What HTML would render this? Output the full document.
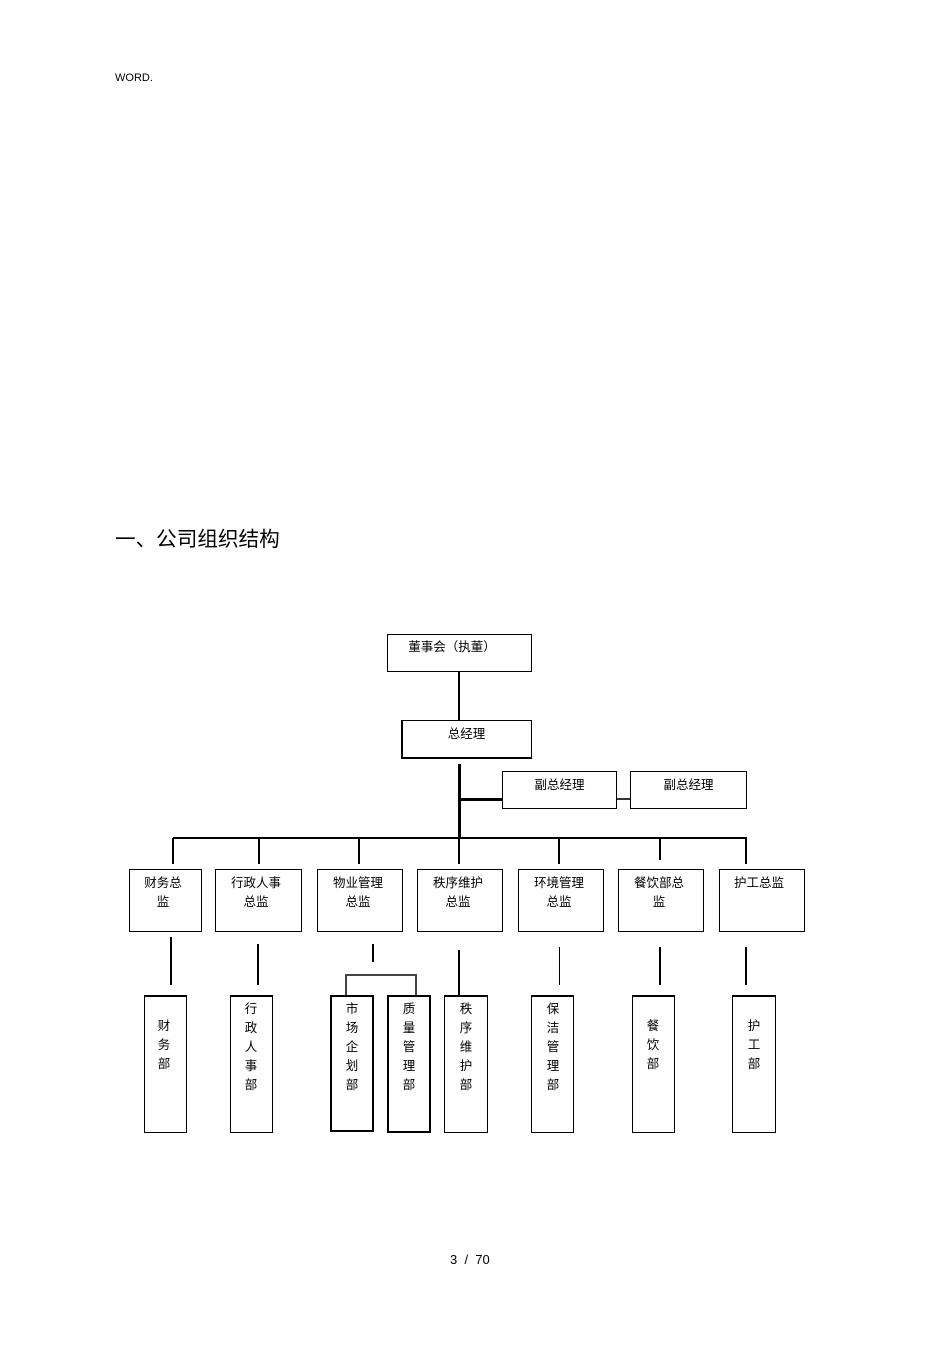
<!DOCTYPE html>
<html><head><meta charset="utf-8"><style>
body{margin:0;background:#fff;width:950px;height:1345px;position:relative;overflow:hidden;font-family:"Liberation Sans","Noto Sans CJK SC",sans-serif;color:#000}
.a{position:absolute}
.b{position:absolute;border:1.5px solid #000;box-sizing:border-box;background:#fff}
.t{position:absolute;font-size:12.5px;line-height:19px;text-align:center}
.v{position:absolute;font-size:12.5px;line-height:19px;text-align:center;width:20px}
.l{position:absolute;background:#000}
</style></head><body>
<div class="a" style="left:115px;top:72px;font-size:11px">WORD.</div>
<div class="a" style="left:115px;top:522px;font-size:20.6px;font-family:'Noto Sans CJK SC',sans-serif">一、公司组织结构</div>
<div class="a" style="left:450px;top:1252px;font-size:13px;white-space:pre">3  /  70</div>

<div class="b" style="left:387px;top:634px;width:145px;height:38px"></div>
<div class="t" style="left:387px;top:638px;width:130px">董事会（执董）</div>
<div class="l" style="left:458px;top:672px;width:2px;height:48px"></div>
<div class="b" style="left:401px;top:720px;width:131px;height:39px;border-width:1.5px 1.5px 2px 2px"></div>
<div class="t" style="left:401px;top:725px;width:131px">总经理</div>
<div class="l" style="left:458px;top:764px;width:3px;height:73px"></div>
<div class="l" style="left:459px;top:798px;width:43px;height:3px"></div>
<div class="b" style="left:502px;top:771px;width:115px;height:38px"></div>
<div class="t" style="left:502px;top:776px;width:115px">副总经理</div>
<div class="l" style="left:617px;top:798px;width:13px;height:2px;background:#333"></div>
<div class="b" style="left:630px;top:771px;width:117px;height:38px"></div>
<div class="t" style="left:630px;top:776px;width:117px">副总经理</div>
<div class="l" style="left:173px;top:837px;width:574px;height:2px"></div>

<div class="l" style="left:172px;top:838px;width:1.5px;height:26px"></div>
<div class="l" style="left:258px;top:838px;width:1.5px;height:26px"></div>
<div class="l" style="left:358px;top:838px;width:1.5px;height:26px"></div>
<div class="l" style="left:458px;top:838px;width:1.5px;height:26px"></div>
<div class="l" style="left:558px;top:838px;width:1.5px;height:26px"></div>
<div class="l" style="left:659px;top:838px;width:1.5px;height:22px"></div>
<div class="l" style="left:745px;top:838px;width:1.5px;height:26px"></div>

<div class="b" style="left:129px;top:869px;width:73px;height:63px"></div>
<div class="t" style="left:129px;top:874px;width:68px">财务总<br>监</div>
<div class="b" style="left:215px;top:869px;width:87px;height:63px"></div>
<div class="t" style="left:215px;top:874px;width:82px">行政人事<br>总监</div>
<div class="b" style="left:317px;top:869px;width:86px;height:63px"></div>
<div class="t" style="left:317px;top:874px;width:82px">物业管理<br>总监</div>
<div class="b" style="left:417px;top:869px;width:86px;height:63px"></div>
<div class="t" style="left:417px;top:874px;width:82px">秩序维护<br>总监</div>
<div class="b" style="left:518px;top:869px;width:86px;height:63px"></div>
<div class="t" style="left:518px;top:874px;width:82px">环境管理<br>总监</div>
<div class="b" style="left:618px;top:869px;width:86px;height:63px"></div>
<div class="t" style="left:618px;top:874px;width:82px">餐饮部总<br>监</div>
<div class="b" style="left:719px;top:869px;width:86px;height:63px"></div>
<div class="t" style="left:719px;top:874px;width:80px">护工总监</div>

<div class="l" style="left:170px;top:937px;width:2px;height:48px"></div>
<div class="l" style="left:257px;top:944px;width:2px;height:41px"></div>
<div class="l" style="left:372px;top:944px;width:2px;height:18px"></div>
<div class="l" style="left:345px;top:974px;width:71px;height:1.5px;background:#444"></div>
<div class="l" style="left:345px;top:974px;width:1.5px;height:22px;background:#444"></div>
<div class="l" style="left:415px;top:974px;width:1.5px;height:22px;background:#444"></div>
<div class="l" style="left:458px;top:950px;width:2px;height:48px"></div>
<div class="l" style="left:559px;top:947px;width:1px;height:38px"></div>
<div class="l" style="left:659px;top:947px;width:2px;height:38px"></div>
<div class="l" style="left:745px;top:947px;width:2px;height:38px"></div>

<div class="b" style="left:144px;top:995px;width:43px;height:138px;border-top-width:2.5px"></div>
<div class="v" style="left:154px;top:1017px">财<br>务<br>部</div>
<div class="b" style="left:230px;top:995px;width:43px;height:138px;border-top-width:2.5px"></div>
<div class="v" style="left:241px;top:1000px">行<br>政<br>人<br>事<br>部</div>
<div class="b" style="left:330px;top:995px;width:44px;height:137px;border-width:2px"></div>
<div class="v" style="left:342px;top:1000px">市<br>场<br>企<br>划<br>部</div>
<div class="b" style="left:387px;top:995px;width:44px;height:138px;border-width:2px"></div>
<div class="v" style="left:399px;top:1000px">质<br>量<br>管<br>理<br>部</div>
<div class="b" style="left:444px;top:995px;width:44px;height:138px;border-top-width:2.5px"></div>
<div class="v" style="left:456px;top:1000px">秩<br>序<br>维<br>护<br>部</div>
<div class="b" style="left:531px;top:995px;width:43px;height:138px;border-top-width:2.5px"></div>
<div class="v" style="left:543px;top:1000px">保<br>洁<br>管<br>理<br>部</div>
<div class="b" style="left:632px;top:995px;width:43px;height:138px;border-top-width:2.5px"></div>
<div class="v" style="left:643px;top:1017px">餐<br>饮<br>部</div>
<div class="b" style="left:732px;top:995px;width:44px;height:138px;border-top-width:2.5px"></div>
<div class="v" style="left:744px;top:1017px">护<br>工<br>部</div>
</body></html>
